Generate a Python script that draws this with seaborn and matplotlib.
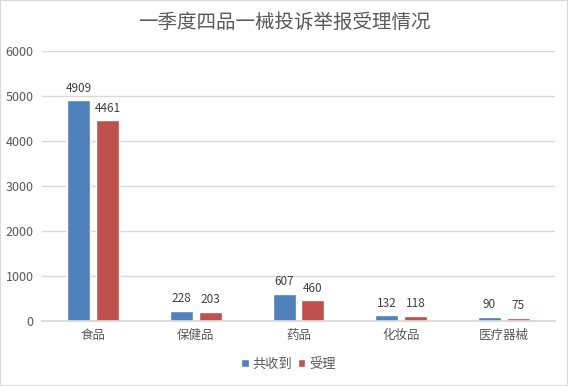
import pandas as pd
import matplotlib.pyplot as plt
import seaborn as sns

categories = ["食品", "保健品", "药品", "化妆品", "医疗器械"]
received = [4909, 228, 607, 132, 90]
accepted = [4461, 203, 460, 118, 75]
series_names = ["共收到", "受理"]
yticks = [0, 1000, 2000, 3000, 4000, 5000, 6000]

df = pd.DataFrame({
    "category": categories * 2,
    "series": [series_names[0]] * len(categories) + [series_names[1]] * len(categories),
    "value": received + accepted,
})

sns.set_theme(style="white")
plt.rcParams["font.family"] = ["Noto Sans CJK SC", "DejaVu Sans"]

fig = plt.figure(figsize=(5.68, 3.86), dpi=100)
ax = fig.add_axes([42 / 568, 1 - 321 / 386, 513 / 568, 270 / 386])

sns.barplot(data=df, x="category", y="value", hue="series",
            palette=["#4F81BD", "#C0504D"], width=0.56, gap=0.2,
            saturation=1, ax=ax, legend=True)

for cont in ax.containers:
    ax.bar_label(cont, padding=4, fontsize=8.5, color="#404040")

ax.set_ylim(0, 6000)
ax.set_yticks(yticks)
ax.set_xlim(-0.5, len(categories) - 0.5)
ax.yaxis.grid(True, color="#D9D9D9", linewidth=1)
ax.set_axisbelow(True)
for s in ["top", "right", "left"]:
    ax.spines[s].set_visible(False)
ax.spines["bottom"].set_color("#D9D9D9")
ax.tick_params(axis="both", length=0, labelsize=9, colors="#595959", pad=6)
ax.set_xlabel("")
ax.set_ylabel("")

ax.legend(loc="center", bbox_to_anchor=(0.48, -0.16), ncol=2, frameon=False,
          fontsize=9.5, handlelength=0.6, handleheight=0.6, handletextpad=0.3,
          columnspacing=0.4, labelcolor="#595959")

fig.suptitle("一季度四品一械投诉举报受理情况", y=1 - 22 / 386, va="center",
             fontsize=14, color="#595959", fontweight="light")

fig.patches.append(plt.Rectangle((0, 0), 1, 1, transform=fig.transFigure,
                                 fill=False, edgecolor="#D9D9D9", linewidth=1.5))

fig.savefig("out.png", dpi=100)
